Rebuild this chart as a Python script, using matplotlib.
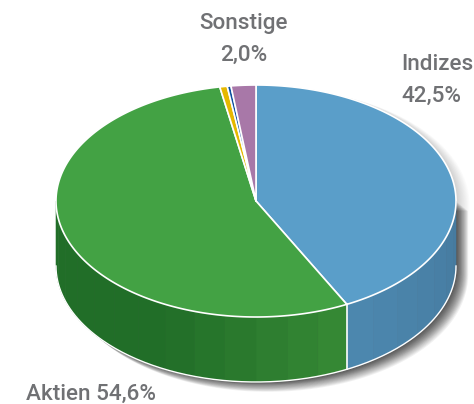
#!/usr/bin/env python3
# -*- coding: utf-8 -*-
import numpy as np
import matplotlib
matplotlib.use("Agg")
import matplotlib.pyplot as plt
from matplotlib.colors import to_rgb

# slices clockwise from 12 o'clock
names = ["Indizes", "Aktien", "Gold", "Anleihen", "Sonstige"]
shares = [42.5, 54.6, 0.6, 0.3, 2.0]
colors = ["#5a9ec9", "#43a244", "#e6b800", "#0b4f9e", "#a878a8"]
side_left = ["#4d88af", "#216e28", "#e6b800", "#0b4f9e", "#a878a8"]
side_right = ["#457a9f", "#378a35", "#e6b800", "#0b4f9e", "#a878a8"]

cx, cy = 256, 201
rx, ry = 200, 116
depth = 65


def rim(t, dy=0):
    t = np.radians(t)
    return cx + rx*np.sin(t), cy - ry*np.cos(t) + dy


fig = plt.figure(figsize=(4.74, 4.04), dpi=100)
ax = fig.add_axes([0, 0, 1, 1])
ax.set_xlim(0, 474)
ax.set_ylim(404, 0)
ax.axis("off")

# soft shadow, strong along the wall, only faint along the back rim
tt = np.linspace(90, 270, 200)
xa, ya = rim(tt, depth)
xb, yb = rim(tt + 180)
for off in np.arange(16, 0, -1):
    ax.fill(np.r_[xa, xb] + off*0.85, np.r_[ya, yb] + off*0.2, color="black",
            alpha=0.012, lw=0)
for off in np.arange(14, 0, -1):
    ax.fill(np.r_[xa, cx - rx, cx + rx] + off*0.85,
            np.r_[ya, cy, cy] + off*0.7, color="black", alpha=0.055, lw=0)

edges = np.cumsum([0] + shares)*3.6

# side wall, drawn in small bands
for i in range(len(shares)):
    a = max(edges[i], 90)
    b = min(edges[i + 1], 270)
    if b <= a:
        continue
    steps = np.r_[np.arange(a, b, 9.0), b]
    for k in range(len(steps) - 1):
        f = (k + 0.5)/(len(steps) - 1)
        # green stays dark over its left half
        if i == 1:
            f = min(f*2.2, 1)
        c = (1 - f)*np.array(to_rgb(side_right[i])) + f*np.array(to_rgb(side_left[i]))
        t = np.linspace(steps[k], steps[k + 1], 12)
        x1, y1 = rim(t)
        x2, y2 = rim(t[::-1], depth)
        ax.fill(np.r_[x1, x2], np.r_[y1, y2], color=c, lw=0.4, ec=c)

# white lines of the wall
ax.plot(*rim(tt, depth), color="white", lw=1.0)
x0, y0 = rim(edges[1])
ax.plot([x0, x0], [y0, y0 + depth], color="white", lw=1.2)

# top face
for i in range(len(shares)):
    t = np.linspace(edges[i], edges[i + 1], 200)
    x, y = rim(t)
    ax.fill(np.r_[cx, x], np.r_[cy, y], facecolor=colors[i], edgecolor="white",
            lw=1.2, joinstyle="round")

text_c = "#707174"
font = dict(family="Roboto", weight="medium", fontsize=16.2, color=text_c,
            va="baseline")
ax.text(243.5, 29, names[4], ha="center", **font)
ax.text(243.5, 61, "2,0%", ha="center", **font)
ax.text(401, 70, names[0], ha="left", **font)
ax.text(401, 102, "42,5%", ha="left", **font)
ax.text(26, 400, "Aktien 54,6%", ha="left", **font)

fig.savefig("out.png", dpi=100)
